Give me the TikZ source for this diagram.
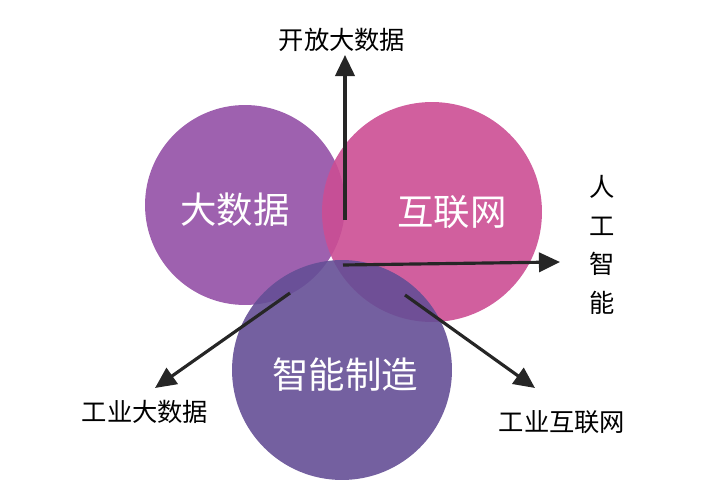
\documentclass[tikz,border=0pt]{standalone}
\usepackage{fontspec}
\setmainfont{Noto Sans CJK SC}
\usetikzlibrary{arrows.meta}
\definecolor{bigdata}{HTML}{9450A6}
\definecolor{internet}{HTML}{CC4E94}
\definecolor{making}{HTML}{654F96}
\begin{document}
\begin{tikzpicture}[x=0.02cm,y=-0.02cm,
   ball/.style={circle,inner sep=0pt,fill opacity=0.9},
   ray/.style={-{Triangle[length=12pt,width=11pt]},line width=1.8pt,black!85},
   tag/.style={font=\Large}]
   \useasboundingbox (0,0) rectangle (703,486);
   \node[ball,fill=bigdata,minimum size=4cm] (bd) at (245,205) {};
   \node[ball,fill=internet,minimum size=4.4cm] (net) at (432,212) {};
   \node[ball,fill=making,minimum size=4.4cm] (mfg) at (342,370) {};
   \node[text=white,font=\huge] (bdt) at (235,210) {大数据};
   \node[text=white,font=\huge] (nett) at (452,212) {互联网};
   \node[text=white,font=\huge] (mfgt) at (345,375) {智能制造};
   \coordinate (o1) at (345,220);
   \coordinate (o2) at (343,265);
   \coordinate (o3) at (290,293);
   \coordinate (o4) at (405,295);
   \node[tag] (open) at (342,40) {开放大数据};
   \node[tag,align=center] (ai) at (602,245) {人\\[4pt]工\\[4pt]智\\[4pt]能};
   \node[tag] (ibd) at (145,412) {工业大数据};
   \node[tag] (inet) at (562,422) {工业互联网};
   \coordinate (e1) at (345,55);
   \coordinate (e2) at (560,262);
   \coordinate (e3) at (155,388);
   \coordinate (e4) at (535,388);
   \draw[ray] (o1) -- (e1);
   \draw[ray] (o2) -- (e2);
   \draw[ray] (o3) -- (e3);
   \draw[ray] (o4) -- (e4);
\end{tikzpicture}
\end{document}
